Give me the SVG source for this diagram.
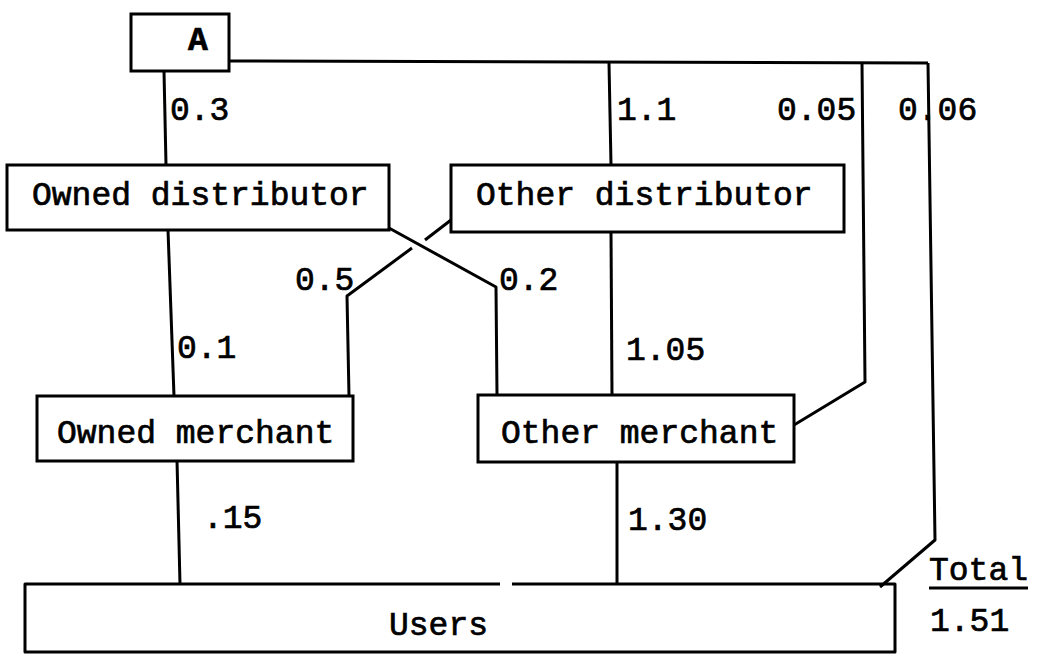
<svg xmlns="http://www.w3.org/2000/svg" width="1038" height="661" viewBox="0 0 1038 661">
<style>
.box{fill:#fff;stroke:#000;stroke-width:3}
.ln{fill:none;stroke:#000;stroke-width:3;stroke-linejoin:round;stroke-linecap:butt}
.t{font-family:"Liberation Mono","Courier New",monospace;font-size:33px;fill:#000;stroke:#000;stroke-width:0.7}
.b{font-weight:bold}
</style>
<rect width="1038" height="661" fill="#fff"/>
<g id="connectors">
<path class="ln" d="M164,71 L166,165"/>
<path class="ln" d="M229,61 L928,63"/>
<path class="ln" d="M609,63 L611,165"/>
<path class="ln" d="M862,63 L865,382 L794,425"/>
<path class="ln" d="M928,63 L935,540 L880,587"/>
<path class="ln" d="M168,230 L174,396"/>
<path class="ln" d="M389,228 L496,287 L497,395"/>
<path class="ln" d="M451,220 L425,240"/>
<path class="ln" d="M412,248 L347,296 L349,396"/>
<path class="ln" d="M611,232 L612,395"/>
<path class="ln" d="M177,460 L180,584"/>
<path class="ln" d="M617,462 L617,585"/>
</g>
<g id="nodeA">
<rect class="box" x="131" y="14" width="98" height="57"/>
<text class="t b" x="188" y="50">A</text>
</g>
<g id="owned-distributor">
<rect class="box" x="7" y="165" width="382" height="65"/>
<text class="t" x="32" y="205">Owned distributor</text>
</g>
<g id="other-distributor">
<rect class="box" x="451" y="165" width="393" height="67"/>
<text class="t" x="476" y="205">Other distributor</text>
</g>
<g id="owned-merchant">
<rect class="box" x="37" y="396" width="316" height="65"/>
<text class="t" x="57" y="443">Owned merchant</text>
</g>
<g id="other-merchant">
<rect class="box" x="478" y="395" width="316" height="67"/>
<text class="t" x="501" y="443">Other merchant</text>
</g>
<g id="users">
<path class="ln" d="M500,584 H25 V652 H895 V584 H512" fill="#fff"/>
<text class="t" x="389" y="635">Users</text>
</g>
<g id="labels">
<text class="t" x="170" y="120">0.3</text>
<text class="t" x="617" y="120">1.1</text>
<text class="t" x="777" y="120">0.05</text>
<text class="t" x="898" y="120">0.06</text>
<text class="t" x="295" y="290">0.5</text>
<text class="t" x="499" y="290">0.2</text>
<text class="t" x="177" y="358">0.1</text>
<text class="t" x="626" y="360">1.05</text>
<text class="t" x="203" y="528">.15</text>
<text class="t" x="628" y="530">1.30</text>
<text class="t" x="929" y="580">Total</text>
<line class="ln" x1="929" y1="588" x2="1028" y2="588"/>
<text class="t" x="930" y="631">1.51</text>
</g>
</svg>
